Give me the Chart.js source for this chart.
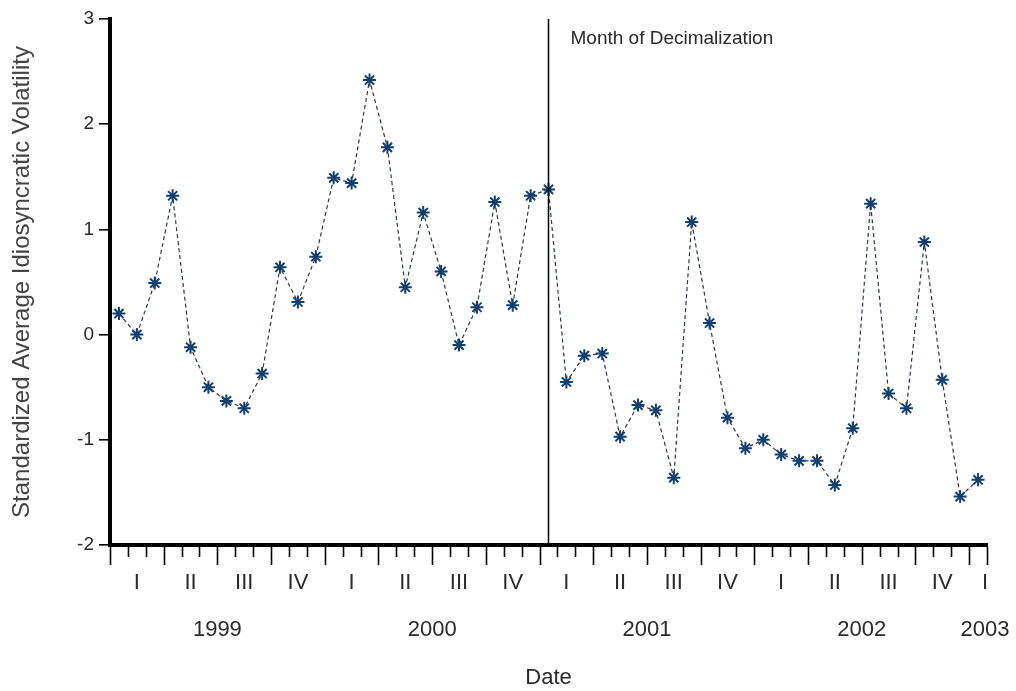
<!DOCTYPE html>
<html>
<head>
<meta charset="utf-8">
<script src="https://cdn.jsdelivr.net/npm/chart.js@4.4.0/dist/chart.umd.min.js"></script>
<style>
html,body{margin:0;padding:0;background:#fff;}
#wrap{width:1016px;height:691px;position:relative;}
</style>
</head>
<body>
<div id="wrap"><canvas id="c" width="1016" height="691"></canvas></div>
<script>
// Months Jan 1999 .. Jan 2003
const months = [
 '1999-01','1999-02','1999-03','1999-04','1999-05','1999-06','1999-07','1999-08','1999-09','1999-10','1999-11','1999-12',
 '2000-01','2000-02','2000-03','2000-04','2000-05','2000-06','2000-07','2000-08','2000-09','2000-10','2000-11','2000-12',
 '2001-01','2001-02','2001-03','2001-04','2001-05','2001-06','2001-07','2001-08','2001-09','2001-10','2001-11','2001-12',
 '2002-01','2002-02','2002-03','2002-04','2002-05','2002-06','2002-07','2002-08','2002-09','2002-10','2002-11','2002-12',
 '2003-01'
];
const volatility = [
 0.20, 0.00, 0.49, 1.32, -0.12, -0.50, -0.63, -0.70, -0.37, 0.64, 0.31, 0.74,
 1.49, 1.44, 2.42, 1.78, 0.45, 1.16, 0.60, -0.10, 0.26, 1.26, 0.28, 1.32,
 1.38, -0.45, -0.20, -0.18, -0.97, -0.67, -0.72, -1.36, 1.07, 0.11, -0.79, -1.08,
 -1.00, -1.14, -1.20, -1.20, -1.43, -0.89, 1.245, -0.56, -0.70, 0.88, -0.43, -1.54,
 -1.38
];
const quarterNames = ['I','II','III','IV'];
const years = ['1999','2000','2001','2002','2003'];
const yTicks = [-2, -1, 0, 1, 2, 3];
const eventMonth = '2001-01';
const eventLabel = 'Month of Decimalization';

const textColor = '#2a2a2a';
const fontFam = '"Liberation Sans", Arial, sans-serif';

const axisDecor = {
  id: 'axisDecor',
  afterDraw(chart) {
    const ctx = chart.ctx;
    const xs = chart.scales.x;
    const area = chart.chartArea;
    const n = months.length;
    const px = v => xs.getPixelForValue(v);
    ctx.save();
    // month ticks
    ctx.strokeStyle = '#000';
    ctx.lineWidth = 1.6;
    for (let i = 0; i <= n; i++) {
      const x = Math.round(px(i - 0.5)) + 0.5;
      const long = (i % 3 === 0) || i === n;
      ctx.beginPath();
      ctx.moveTo(x, area.bottom + 2);
      ctx.lineTo(x, area.bottom + (long ? 20 : 12));
      ctx.stroke();
    }
    ctx.fillStyle = textColor;
    ctx.textAlign = 'center';
    ctx.textBaseline = 'middle';
    ctx.font = '22px ' + fontFam;
    const groups = (size, key) => {
      const out = [];
      for (let i = 0; i < n; i++) {
        const k = key(i);
        if (!out.length || out[out.length-1].k !== k) out.push({k, s: i, e: i});
        else out[out.length-1].e = i;
      }
      return out.map(g => {
        const full = (g.e - g.s + 1) === size;
        const x = full ? (px(g.s - 0.5) + px(g.e + 0.5)) / 2 : px(g.e + 0.5) - 2;
        return {k: g.k, x};
      });
    };
    groups(3, i => Math.floor(i / 3)).forEach(g => {
      ctx.fillText(quarterNames[g.k % 4], g.x, area.bottom + 38);
    });
    groups(12, i => Math.floor(i / 12)).forEach(g => {
      ctx.fillText(years[g.k], g.x, area.bottom + 85);
    });
    // event line
    const ex = px(months.indexOf(eventMonth));
    ctx.strokeStyle = '#000';
    ctx.lineWidth = 1.5;
    ctx.beginPath();
    ctx.moveTo(ex, area.top);
    ctx.lineTo(ex, area.bottom);
    ctx.stroke();
    ctx.textAlign = 'left';
    ctx.font = '19px ' + fontFam;
    ctx.fillText(eventLabel, ex + 22, area.top + 20);
    ctx.restore();
  }
};

new Chart(document.getElementById('c'), {
  type: 'line',
  data: {
    labels: months,
    datasets: [{
      data: volatility,
      borderColor: '#2c3846',
      borderWidth: 1.2,
      borderDash: [4, 3],
      fill: false,
      tension: 0,
      pointStyle: 'star',
      pointRadius: 6.5,
      pointBorderWidth: 2,
      pointBorderColor: '#123f6d',
      pointBackgroundColor: '#123f6d'
    }]
  },
  options: {
    responsive: false,
    animation: false,
    devicePixelRatio: 1,
    layout: { padding: { top: 19, right: 29, bottom: 0, left: 8 } },
    plugins: { legend: { display: false }, tooltip: { enabled: false } },
    scales: {
      x: {
        type: 'category',
        offset: true,
        grid: { display: false, drawOnChartArea: false, drawTicks: false },
        border: { display: true, color: '#000', width: 4 },
        ticks: { display: false },
        title: { display: true, text: 'Date', color: textColor, font: { size: 22, family: fontFam }, padding: { top: 0, bottom: 0 } },
        afterFit(s) { s.height = 146; }
      },
      y: {
        min: -2, max: 3,
        afterBuildTicks(s) { s.ticks = yTicks.map(v => ({ value: v })); },
        grid: { drawOnChartArea: false, drawTicks: true, tickLength: 11, tickColor: '#000', lineWidth: 1.6 },
        border: { display: true, color: '#000', width: 4 },
        ticks: { color: textColor, font: { size: 19, family: fontFam }, padding: 5 },
        title: { display: true, text: 'Standardized Average Idiosyncratic Volatility', color: '#444', font: { size: 24, family: fontFam }, padding: { top: 0, bottom: 0 } },
        afterFit(s) { s.width = 102; }
      }
    }
  },
  plugins: [axisDecor]
});
</script>
</body>
</html>
